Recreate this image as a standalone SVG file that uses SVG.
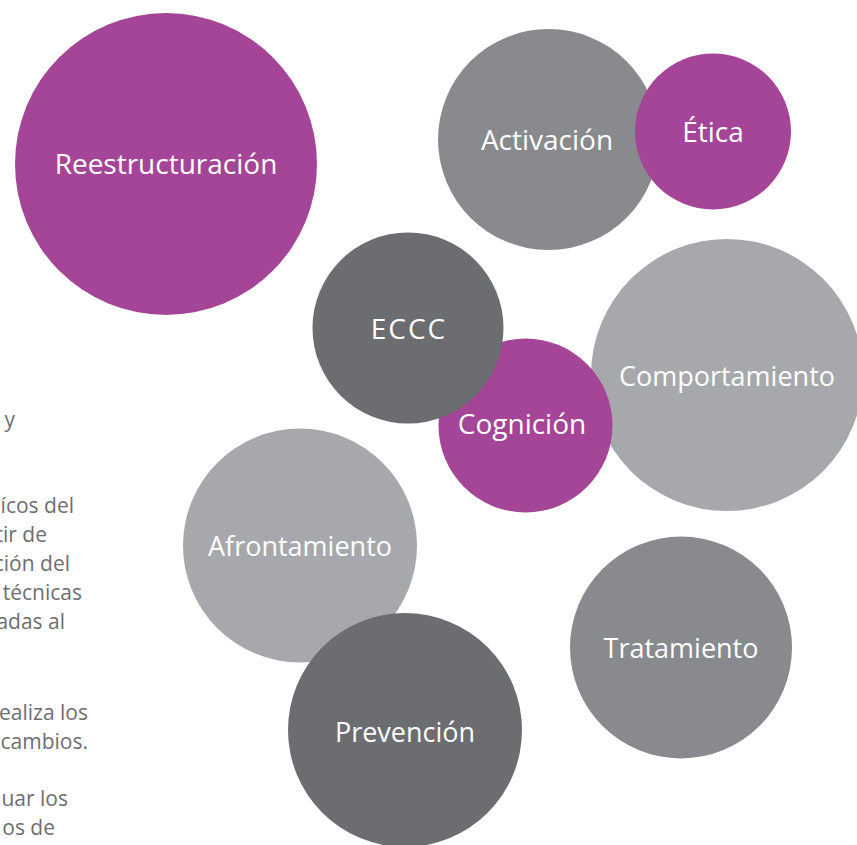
<svg xmlns="http://www.w3.org/2000/svg" width="857" height="845" viewBox="0 0 857 845">
<style>
.purple{fill:#A54597}
.dark{fill:#6C6D71}
.mid{fill:#898A8E}
.light{fill:#A7A8AB}
.lbl{font-family:"Open Sans","Noto Sans","Liberation Sans",sans-serif;font-size:28px;fill:#FFFFFF;text-anchor:middle}
.sm{font-size:27px}
.side{font-family:"Open Sans","Noto Sans","Liberation Sans",sans-serif;font-size:21px;fill:#6D6E71;text-anchor:end}
</style>
<rect width="857" height="845" fill="#FFFFFF"/>
<g id="side-text">
<text class="side" x="15" y="427">y</text>
<text class="side" x="74" y="513">ícos del</text>
<text class="side" x="47" y="542">tir de</text>
<text class="side" x="70" y="571">ción del</text>
<text class="side" x="82" y="600">técnicas</text>
<text class="side" x="65" y="629">adas al</text>
<text class="side" x="88" y="720">ealiza los</text>
<text class="side" x="88" y="749">cambios.</text>
<text class="side" x="68" y="806">uar los</text>
<text class="side" x="55" y="835">os de</text>
</g>
<g id="connectors"></g>
<g id="reestructuracion">
<circle class="purple" cx="166" cy="164" r="151"/>
<text class="lbl" x="166" y="174">Reestructuración</text>
</g>
<g id="activacion">
<circle class="mid" cx="548.5" cy="139.5" r="110.5"/>
<text class="lbl" x="547" y="150">Activación</text>
</g>
<g id="etica">
<circle class="purple" cx="713" cy="131.5" r="78"/>
<text class="lbl" x="713" y="142">Ética</text>
</g>
<g id="comportamiento">
<circle class="light" cx="727" cy="375" r="136"/>
<text class="lbl sm" x="727" y="386">Comportamiento</text>
</g>
<g id="cognicion">
<circle class="purple" cx="525.5" cy="425.5" r="87"/>
<text class="lbl" x="522" y="434">Cognición</text>
</g>
<g id="eccc">
<circle class="dark" cx="408" cy="328" r="95.5"/>
<text class="lbl" x="409" y="339" letter-spacing="2">ECCC</text>
</g>
<g id="afrontamiento">
<circle class="light" cx="300" cy="545.5" r="117"/>
<text class="lbl sm" x="300" y="556">Afrontamiento</text>
</g>
<g id="prevencion">
<circle class="dark" cx="405" cy="730" r="117"/>
<text class="lbl sm" x="405" y="741.5">Prevención</text>
</g>
<g id="tratamiento">
<circle class="mid" cx="681" cy="647.5" r="111"/>
<text class="lbl sm" x="681" y="658">Tratamiento</text>
</g>
</svg>
